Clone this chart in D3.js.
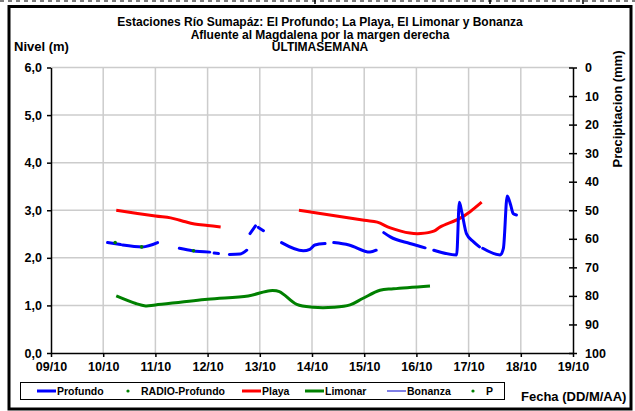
<!DOCTYPE html>
<html>
<head>
<meta charset="utf-8">
<script src="https://cdn.jsdelivr.net/npm/d3@7"></script>
<style>
  body { margin: 0; background: #fff; }
  text { font-family: "Liberation Sans", Arial, sans-serif; font-weight: bold; fill: #000; }
</style>
</head>
<body>
<script>
// Niveles (fecha "dd/mm hh:mm", nivel en m); null = hueco
const profundo = [
  ["10/10 02:00", 2.32], ["10/10 08:00", 2.28], null,
  ["10/10 09:00", 2.27], ["10/10 18:00", 2.23], ["11/10 01:00", 2.32], null,
  ["11/10 11:00", 2.20], ["11/10 17:00", 2.15], ["12/10 01:00", 2.12], null,
  ["12/10 03:00", 2.10], ["12/10 05:00", 2.09], null,
  ["12/10 10:00", 2.07], ["12/10 15:00", 2.08], ["12/10 18:00", 2.16], null,
  ["12/10 19:30", 2.51], ["12/10 22:00", 2.67], null,
  ["12/10 23:20", 2.64], ["13/10 01:40", 2.57], null,
  ["13/10 10:00", 2.32], ["13/10 20:00", 2.15], ["13/10 23:00", 2.18], ["14/10 01:20", 2.27], ["14/10 06:00", 2.30], null,
  ["14/10 10:00", 2.32], ["14/10 17:00", 2.27], ["15/10 02:40", 2.12], ["15/10 05:30", 2.16], null,
  ["15/10 09:00", 2.53], ["15/10 12:00", 2.44], ["15/10 21:00", 2.30], ["16/10 04:00", 2.21], null,
  ["16/10 08:00", 2.16], ["16/10 18:30", 2.06], ["16/10 19:45", 3.17], ["16/10 20:50", 2.97],
  ["16/10 23:00", 2.51], ["17/10 02:10", 2.34], ["17/10 05:00", 2.23], null,
  ["17/10 06:30", 2.20], ["17/10 14:30", 2.06], ["17/10 16:00", 2.20], ["17/10 17:45", 3.30],
  ["17/10 19:20", 3.11], ["17/10 20:30", 2.93], ["17/10 22:00", 2.90]
];

const radioProfundo = [
  ["10/10 05:30", 2.32], ["10/10 17:40", 2.23], ["11/10 17:30", 2.15]
];

const playa = [
  ["10/10 06:00", 3.00], ["11/10 00:00", 2.88], ["11/10 07:00", 2.84], ["11/10 12:00", 2.78],
  ["11/10 18:00", 2.71], ["12/10 00:00", 2.68], ["12/10 06:00", 2.65], null,
  ["13/10 18:00", 3.00], ["14/10 00:00", 2.96], ["15/10 00:00", 2.79], ["15/10 06:00", 2.75],
  ["15/10 12:00", 2.63], ["15/10 21:00", 2.52], ["16/10 02:00", 2.51], ["16/10 08:00", 2.56],
  ["16/10 11:00", 2.65], ["16/10 20:00", 2.83], ["17/10 00:40", 2.97], ["17/10 06:00", 3.17]
];

const limonar = [
  ["10/10 06:00", 1.20], ["10/10 15:00", 1.04], ["10/10 19:30", 0.99], ["11/10 00:00", 1.01],
  ["12/10 00:00", 1.13], ["12/10 18:40", 1.20], ["13/10 04:40", 1.31], ["13/10 09:00", 1.29],
  ["13/10 17:00", 1.02], ["14/10 00:30", 0.96], ["14/10 10:00", 0.96], ["14/10 17:30", 1.01],
  ["14/10 23:30", 1.15], ["15/10 07:15", 1.32], ["15/10 13:30", 1.35], ["16/10 06:15", 1.41]
];

const xTickLabels = ["09/10", "10/10", "11/10", "12/10", "13/10", "14/10", "15/10", "16/10", "17/10", "18/10", "19/10"];
const nivelTicks = [0, 1, 2, 3, 4, 5, 6];
const precipTicks = [0, 10, 20, 30, 40, 50, 60, 70, 80, 90, 100];

const titulo = [
  "Estaciones Río Sumapáz: El Profundo; La Playa, El Limonar y Bonanza",
  "Afluente al Magdalena por la margen derecha",
  "ULTIMASEMANA"
];

const leyenda = [
  { name: "Profundo", color: "#0000ff", kind: "line", w: 3 },
  { name: "RADIO-Profundo", color: "#008000", kind: "dot" },
  { name: "Playa", color: "#ff0000", kind: "line", w: 3 },
  { name: "Limonar", color: "#008000", kind: "line", w: 3 },
  { name: "Bonanza", color: "#0000cc", kind: "line", w: 1 },
  { name: "P", color: "#008000", kind: "dot" }
];

const W = 635, H = 411;
const parse = d3.timeParse("%d/%m %H:%M");
const pdate = d3.timeParse("%d/%m");

const svg = d3.select("body").append("svg")
  .attr("width", W).attr("height", H);

// marco exterior
svg.append("rect")
  .attr("x", 9).attr("y", 6.5).attr("width", 622).attr("height", 402.5)
  .attr("fill", "none").attr("stroke", "#000").attr("stroke-width", 3);

// linea discontinua del borde superior (recorte de pagina)
svg.append("line")
  .attr("x1", 0).attr("x2", W).attr("y1", 1).attr("y2", 1)
  .attr("stroke", "#555").attr("stroke-width", 1.5).attr("stroke-dasharray", "4,4");
[315, 490, 583].forEach(function (x) {
  svg.append("line").attr("x1", x).attr("x2", x).attr("y1", 0).attr("y2", 4)
    .attr("stroke", "#000").attr("stroke-width", 1.5);
});

const x = d3.scaleTime()
  .domain([pdate("09/10"), pdate("19/10")])
  .range([51, 573]);
const y = d3.scaleLinear().domain([0, 6]).range([353, 67.5]);
const yR = d3.scaleLinear().domain([0, 100]).range([67.5, 353]);

const g = svg.append("g");

// rejilla
g.selectAll(".vgrid")
  .data(xTickLabels.slice(1, -1))
  .enter().append("line")
  .attr("x1", d => x(pdate(d))).attr("x2", d => x(pdate(d)))
  .attr("y1", y(6)).attr("y2", y(0))
  .attr("stroke", "#cccccc").attr("stroke-width", 1.5);
g.selectAll(".hgrid")
  .data(nivelTicks.slice(1))
  .enter().append("line")
  .attr("x1", x.range()[0]).attr("x2", x.range()[1])
  .attr("y1", d => y(d)).attr("y2", d => y(d))
  .attr("stroke", "#cccccc").attr("stroke-width", 1.5);

// ejes
const axL = d3.axisLeft(y).tickValues(nivelTicks).tickSize(4).tickSizeOuter(0)
  .tickFormat(d => d3.format(".1f")(d).replace(".", ","));
const axB = d3.axisBottom(x).tickValues(xTickLabels.map(pdate)).tickSize(4).tickSizeOuter(0)
  .tickFormat(d3.timeFormat("%d/%m"));
const axR = d3.axisRight(yR).tickValues(precipTicks).tickSize(4).tickSizeOuter(0);

function styleAxis(sel) {
  sel.select(".domain").attr("stroke", "#000").attr("stroke-width", 1.5);
  sel.selectAll(".tick line").attr("stroke", "#000").attr("stroke-width", 1.5);
  sel.selectAll(".tick text").attr("font-size", 12.5).attr("fill", "#000");
}

g.append("g").attr("transform", "translate(51,0)").call(axL).call(styleAxis)
  .selectAll(".tick text").attr("x", -9);
g.append("g").attr("transform", "translate(0,353)").call(axB).call(styleAxis)
  .selectAll(".tick text").attr("y", 9);
const gr = g.append("g").attr("transform", "translate(573,0)").call(axR).call(styleAxis);
gr.selectAll(".tick line").attr("x1", -4);
gr.selectAll(".tick text").attr("x", 12);

// series
const line = d3.line()
  .defined(d => d !== null)
  .x(d => x(parse(d[0])))
  .y(d => y(d[1]));
const smooth = line.curve(d3.curveCatmullRom.alpha(0.5));

g.append("path").datum(limonar).attr("d", smooth)
  .attr("fill", "none").attr("stroke", "#008000").attr("stroke-width", 3);
g.append("path").datum(playa).attr("d", smooth)
  .attr("fill", "none").attr("stroke", "#ff0000").attr("stroke-width", 3);
g.append("path").datum(profundo).attr("d", line.curve(d3.curveMonotoneX))
  .attr("fill", "none").attr("stroke", "#0000ff").attr("stroke-width", 3)
  .attr("stroke-linejoin", "round").attr("stroke-linecap", "round");
g.selectAll(".radio").data(radioProfundo).enter().append("circle")
  .attr("cx", d => x(parse(d[0]))).attr("cy", d => y(d[1]))
  .attr("r", 1.8).attr("fill", "#008000");

// titulos
svg.selectAll(".titulo").data(titulo).enter().append("text")
  .attr("x", 320).attr("y", (d, i) => 26 + i * 12.5)
  .attr("text-anchor", "middle").attr("font-size", 12).text(d => d);

svg.append("text").attr("x", 14).attr("y", 51).attr("font-size", 13).text("Nivel (m)");
svg.append("text")
  .attr("transform", "translate(622,109) rotate(-90)")
  .attr("text-anchor", "middle").attr("font-size", 13).text("Precipitacion (mm)");
svg.append("text").attr("x", 521).attr("y", 401).attr("font-size", 13).text("Fecha (DD/M/AA)");

// leyenda
svg.append("rect").attr("x", 20.5).attr("y", 382.5).attr("width", 484).attr("height", 17)
  .attr("fill", "#fff").attr("stroke", "#000").attr("stroke-width", 1);
const legX = [37, 121, 242, 305, 387, 466];
const li = svg.selectAll(".leg").data(leyenda).enter().append("g")
  .attr("transform", (d, i) => "translate(" + legX[i] + ",391)");
li.filter(d => d.kind === "line").append("line")
  .attr("x1", 0).attr("x2", 19).attr("stroke", d => d.color).attr("stroke-width", d => d.w);
li.filter(d => d.kind === "dot").append("circle")
  .attr("cx", 7).attr("r", 1.6).attr("fill", d => d.color);
li.append("text").attr("x", 20).attr("y", 4).attr("font-size", 10.5).text(d => d.name);
</script>
</body>
</html>
